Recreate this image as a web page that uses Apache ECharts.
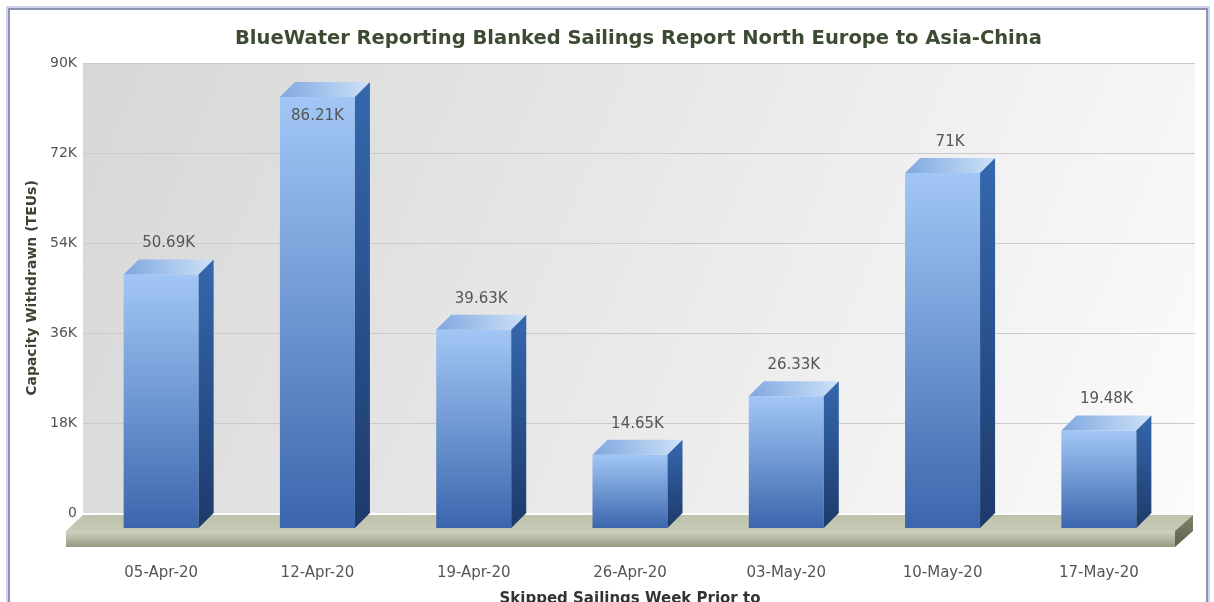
<!DOCTYPE html>
<html>
<head>
<meta charset="utf-8">
<script src="https://cdn.jsdelivr.net/npm/echarts@6/dist/echarts.min.js"></script>
<style>
  html, body { margin: 0; padding: 0; background: #fff; overflow: hidden; }
  #main { width: 1214px; height: 602px; }
</style>
</head>
<body>
<div id="main"></div>
<script>
// 数据
var weeks = ['05-Apr-20', '12-Apr-20', '19-Apr-20', '26-Apr-20', '03-May-20', '10-May-20', '17-May-20'];
var capacity = [50690, 86210, 39630, 14650, 26330, 71000, 19480];
var valueLabels = ['50.69K', '86.21K', '39.63K', '14.65K', '26.33K', '71K', '19.48K'];
var yTicks = [0, 18000, 36000, 54000, 72000, 90000];

var DEPTH = 15; // 3D 深度
var FONT = 'Verdana, "DejaVu Sans", sans-serif';

var myChart = echarts.init(document.getElementById('main'));

function lin(x, y, x2, y2, c1, c2) {
    return new echarts.graphic.LinearGradient(x, y, x2, y2, [
        {offset: 0, color: c1}, {offset: 1, color: c2}
    ]);
}

// 背景墙 + 地板
function renderWall(params, api) {
    var cs = params.coordSys;
    var y0 = api.coord([0, 0])[1];
    var right = cs.x + cs.width + 18;
    var children = [{
        type: 'rect',
        shape: {x: cs.x, y: cs.y, width: right - cs.x, height: y0 - cs.y},
        style: {fill: lin(0, 0, 1, 1, '#d7d7d7', '#fbfbfb')}
    }];
    yTicks.forEach(function (t) {
        if (t === 0) return;
        var y = Math.round(api.coord([0, t])[1]) + 0.5;
        children.push({
            type: 'line',
            shape: {x1: cs.x, y1: y, x2: right, y2: y},
            style: {stroke: '#cbcbcb', lineWidth: 1}
        });
    });
    var bL = cs.x, bR = cs.x + cs.width + 16, fL = cs.x - 17, fR = cs.x + cs.width - 2;
    var yb = y0 + 2, yf = y0 + 18, yd = y0 + 34;
    // 地板顶面
    children.push({
        type: 'polygon',
        shape: {points: [[bL, yb], [bR, yb], [fR, yf], [fL, yf]]},
        style: {fill: lin(0, 0, 0, 1, '#bfc3ae', '#c6cab6')}
    });
    // 地板前面
    children.push({
        type: 'rect',
        shape: {x: fL, y: yf, width: fR - fL, height: yd - yf},
        style: {fill: lin(0, 0, 0, 1, '#cfd3c0', '#959a83')}
    });
    // 地板侧面
    children.push({
        type: 'polygon',
        shape: {points: [[fR, yf], [bR, yb], [bR, yb + 16], [fR, yd]]},
        style: {fill: lin(0, 0, 0, 1, '#7d846c', '#5c624d')}
    });
    return {type: 'group', children: children};
}

// 3D 柱子
function renderBar(params, api) {
    var idx = api.value(0);
    var val = api.value(1);
    var top = api.coord([idx, val]);
    var y0 = api.coord([idx, 0])[1];
    var bw = api.size([1, 0])[0] * 0.48;
    var cx = top[0];
    var L = cx - bw / 2, R = cx + bw / 2;
    var yv = top[1];
    var cs = params.coordSys;
    var children = [
        {
            type: 'rect',
            shape: {x: L, y: yv + DEPTH, width: bw, height: y0 - yv},
            style: {fill: lin(0, 0, 0, 1, '#a2c7f6', '#3b66ad')}
        },
        {
            type: 'polygon',
            shape: {points: [[L, yv + DEPTH], [R, yv + DEPTH], [R + DEPTH, yv], [L + DEPTH, yv]]},
            style: {fill: lin(0, 1, 1, 0, '#7ea7e0', '#cfe2f8')}
        },
        {
            type: 'polygon',
            shape: {points: [[R, yv + DEPTH], [R + DEPTH, yv], [R + DEPTH, y0], [R, y0 + DEPTH]]},
            style: {fill: lin(0, 0, 0, 1, '#3568ae', '#1d3a6b')}
        }
    ];
    var inside = yv - 30 < cs.y;
    children.push({
        type: 'text',
        style: {
            text: valueLabels[params.dataIndex],
            x: inside ? cx : cx + DEPTH / 2,
            y: inside ? yv + DEPTH + 19 : yv - 16,
            align: 'center',
            verticalAlign: 'middle',
            fill: '#555555',
            font: '15px ' + FONT
        }
    });
    return {type: 'group', children: children};
}

var option = {
    backgroundColor: '#ffffff',
    animation: false,
    title: {
        text: 'BlueWater Reporting Blanked Sailings Report North Europe to Asia-China',
        left: 230,
        top: 24,
        textStyle: {color: '#3d4b33', fontSize: 19.5, fontWeight: 'bold', fontFamily: FONT}
    },
    graphic: [
        {type: 'rect', shape: {x: 7, y: 7, width: 1202, height: 640}, style: {fill: 'none', stroke: '#d0d3ee', lineWidth: 2}, z: 10},
        {type: 'rect', shape: {x: 9, y: 9, width: 1198, height: 640}, style: {fill: 'none', stroke: '#8d92b5', lineWidth: 2}, z: 10}
    ],
    grid: {left: 83, width: 1094, top: 63, height: 450, containLabel: false, outerBoundsMode: 'none'},
    xAxis: {
        type: 'category',
        data: weeks,
        name: 'Skipped Sailings Week Prior to',
        nameLocation: 'middle',
        nameGap: 79,
        nameTextStyle: {color: '#333333', fontSize: 15, fontWeight: 'bold', fontFamily: FONT},
        axisLine: {show: false},
        axisTick: {show: false},
        axisLabel: {margin: 53, color: '#555555', fontSize: 15, fontFamily: FONT}
    },
    yAxis: {
        type: 'value',
        min: 0,
        max: 90000,
        interval: 18000,
        name: 'Capacity Withdrawn (TEUs)',
        nameLocation: 'middle',
        nameGap: 44,
        nameTextStyle: {color: '#3e4230', fontSize: 14, fontWeight: 'bold', fontFamily: FONT},
        axisLine: {show: false},
        axisTick: {show: false},
        splitLine: {show: false},
        axisLabel: {
            margin: 6,
            color: '#555555',
            fontSize: 14,
            fontFamily: FONT,
            formatter: function (v) { return v === 0 ? '0' : (v / 1000) + 'K'; }
        }
    },
    series: [
        {
            type: 'custom',
            name: 'wall',
            silent: true,
            z: 1,
            renderItem: renderWall,
            data: [[0, 0]]
        },
        {
            type: 'custom',
            name: 'Capacity',
            z: 2,
            renderItem: renderBar,
            encode: {x: 0, y: 1},
            data: capacity.map(function (v, i) { return [i, v]; })
        }
    ]
};

myChart.setOption(option);
</script>
</body>
</html>
